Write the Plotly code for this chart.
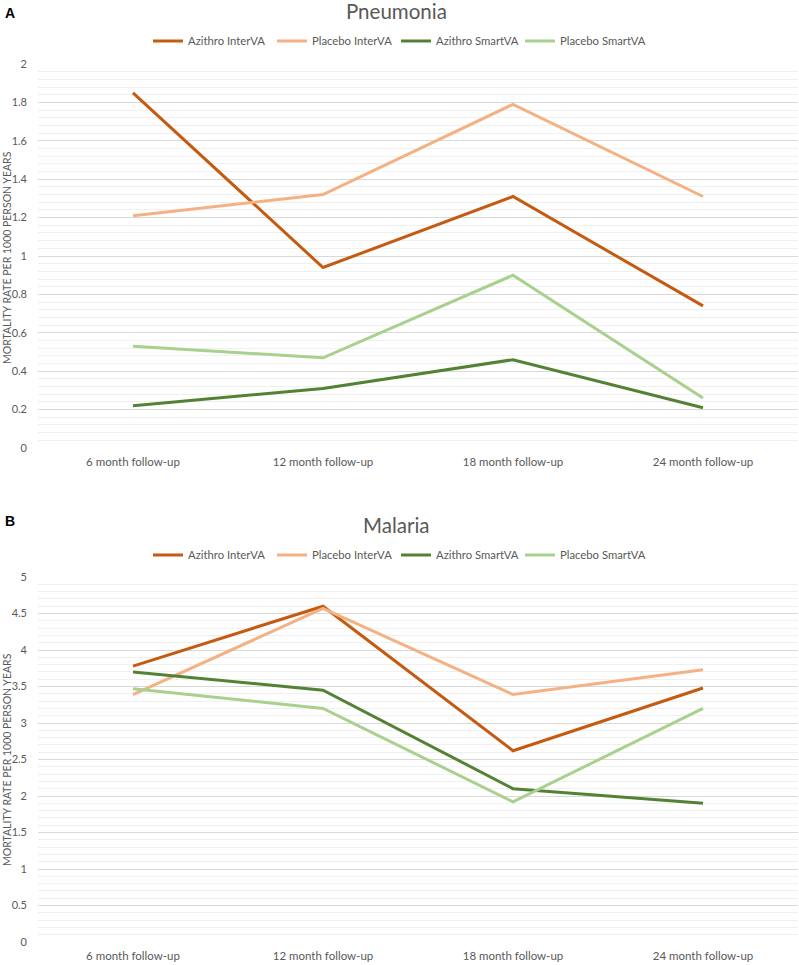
import plotly.graph_objects as go

categories = ["6 month follow-up", "12 month follow-up", "18 month follow-up", "24 month follow-up"]
series_names = ["Azithro InterVA", "Placebo InterVA", "Azithro SmartVA", "Placebo SmartVA"]
colors = ["#C55A11", "#F4B183", "#548235", "#A9D18E"]

pneumonia_azithro_interva = [1.85, 0.94, 1.31, 0.74]
pneumonia_placebo_interva = [1.21, 1.32, 1.79, 1.31]
pneumonia_azithro_smartva = [0.22, 0.31, 0.46, 0.21]
pneumonia_placebo_smartva = [0.53, 0.47, 0.90, 0.26]

malaria_azithro_interva = [3.78, 4.60, 2.62, 3.48]
malaria_placebo_interva = [3.39, 4.57, 3.39, 3.73]
malaria_azithro_smartva = [3.70, 3.45, 2.10, 1.90]
malaria_placebo_smartva = [3.47, 3.20, 1.92, 3.20]

pneu = [pneumonia_azithro_interva, pneumonia_placebo_interva, pneumonia_azithro_smartva, pneumonia_placebo_smartva]
mal = [malaria_azithro_interva, malaria_placebo_interva, malaria_azithro_smartva, malaria_placebo_smartva]

W, H = 799, 965
FONT = "Lato"
GRAY = "#595959"


def px(x):
    return x / W


def py(y):
    return 1 - y / H


# first three entries share one legend with fixed entry width; the last gets its own
top_legends = ["legend", "legend", "legend", "legend3"]
bot_legends = ["legend2", "legend2", "legend2", "legend4"]

fig = go.Figure()
for name, col, vals, lg in zip(series_names, colors, pneu, top_legends):
    fig.add_trace(go.Scatter(x=categories, y=vals, mode="lines", name=name,
                             line=dict(color=col, width=3), xaxis="x", yaxis="y",
                             legend=lg))
for name, col, vals, lg in zip(series_names, colors, mal, bot_legends):
    fig.add_trace(go.Scatter(x=categories, y=vals, mode="lines", name=name,
                             line=dict(color=col, width=3), xaxis="x2", yaxis="y2",
                             legend=lg))

xdom = [px(38), px(798)]
common_x = dict(type="category", range=[-0.5, 3.5], showgrid=False, zeroline=False,
                showline=False, ticks="", tickfont=dict(family=FONT, size=11.5, color=GRAY),
                automargin=False, fixedrange=True, ticklabelstandoff=5)
common_y = dict(zeroline=False, showline=False, ticks="", automargin=False,
                gridcolor="#d9d9d9", gridwidth=1, fixedrange=True,
                tickfont=dict(family=FONT, size=11, color=GRAY), ticklabelstandoff=10)

legend_common = dict(orientation="h", xanchor="left", yanchor="middle",
                     font=dict(family=FONT, size=11.3, color=GRAY), bgcolor="rgba(0,0,0,0)",
                     itemwidth=30, tracegroupgap=0)

fig.update_layout(
    width=W, height=H,
    margin=dict(l=0, r=0, t=0, b=0),
    paper_bgcolor="white", plot_bgcolor="white",
    xaxis=dict(domain=xdom, anchor="y", **common_x),
    yaxis=dict(domain=[py(448), py(64)], range=[0, 2], dtick=0.2, tick0=0,
               minor=dict(dtick=0.04, showgrid=True, gridcolor="#f0f0f0", gridwidth=1),
               anchor="x", **common_y),
    xaxis2=dict(domain=xdom, anchor="y2", **common_x),
    yaxis2=dict(domain=[py(942), py(577)], range=[0, 5], dtick=0.5, tick0=0,
                minor=dict(dtick=0.1, showgrid=True, gridcolor="#f0f0f0", gridwidth=1),
                anchor="x2", **common_y),
    legend=dict(x=px(148), y=py(41), entrywidth=79, entrywidthmode="pixels", **legend_common),
    legend3=dict(x=px(520), y=py(41), **legend_common),
    legend2=dict(x=px(148), y=py(555), entrywidth=79, entrywidthmode="pixels", **legend_common),
    legend4=dict(x=px(520), y=py(555), **legend_common),
    showlegend=True,
)

ann = [
    dict(text="<b>A</b>", x=px(3), y=py(13), xanchor="left", yanchor="middle",
         font=dict(family="Liberation Sans", size=14, color="black")),
    dict(text="<b>B</b>", x=px(3), y=py(521), xanchor="left", yanchor="middle",
         font=dict(family="Liberation Sans", size=14, color="black")),
    dict(text="Pneumonia", x=px(396), y=py(11), xanchor="center", yanchor="middle",
         font=dict(family=FONT, size=20.5, color=GRAY)),
    dict(text="Malaria", x=px(396), y=py(525), xanchor="center", yanchor="middle",
         font=dict(family=FONT, size=20.5, color=GRAY)),
    dict(text="MORTALITY RATE PER 1000 PERSON YEARS", x=px(7), y=py(258), textangle=-90,
         xanchor="center", yanchor="middle", font=dict(family=FONT, size=10.5, color=GRAY)),
    dict(text="MORTALITY RATE PER 1000 PERSON YEARS", x=px(7), y=py(760), textangle=-90,
         xanchor="center", yanchor="middle", font=dict(family=FONT, size=10.5, color=GRAY)),
]
for a in ann:
    a.update(xref="paper", yref="paper", showarrow=False)
fig.update_layout(annotations=ann)

fig.write_html("out.html", config={"displayModeBar": False},
               post_script="document.body.style.margin='0';document.body.style.overflow='hidden';")
